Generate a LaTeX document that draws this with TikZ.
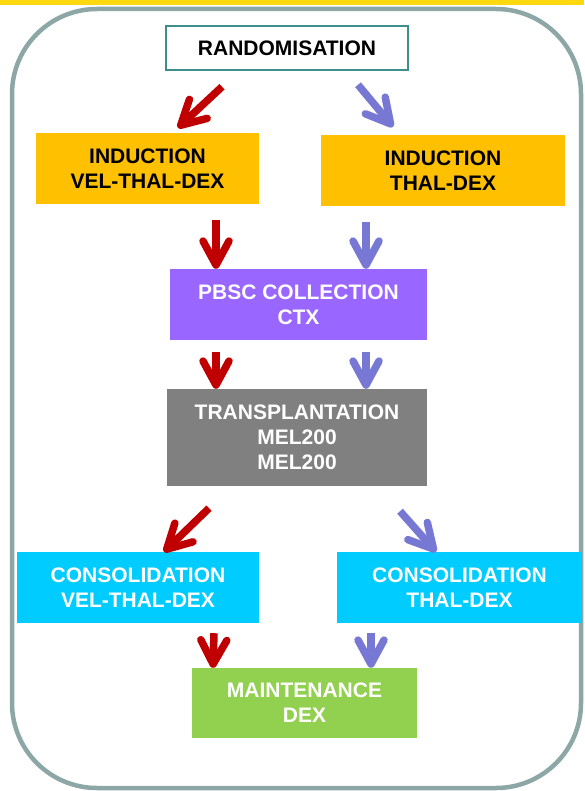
\documentclass[tikz,border=0pt]{standalone}
\usepackage{fontspec}
\setmainfont{Liberation Sans}
\usetikzlibrary{arrows.meta}
\definecolor{redc}{HTML}{C00000}
\definecolor{bluec}{HTML}{7777D4}
\definecolor{framec}{HTML}{8DA7A7}
\definecolor{tealc}{HTML}{3E8E8E}
\definecolor{stripc}{HTML}{FFD810}
\definecolor{indc}{HTML}{FFC000}
\definecolor{pbscc}{HTML}{9966FF}
\definecolor{transc}{HTML}{808080}
\definecolor{consc}{HTML}{00CCFF}
\definecolor{maintc}{HTML}{92D050}

\begin{document}
\begin{tikzpicture}[x=1pt,y=-1pt, every node/.style={font=\bfseries\fontsize{21}{25}\selectfont,align=center,inner sep=0pt},box/.style={rectangle,text=white},darkbox/.style={rectangle,text=black},rarr/.style={draw=redc,line width=7.5pt,-{Straight Barb[length=24pt,width=26pt,round]}},barr/.style={rarr,draw=bluec},]
\useasboundingbox (0,0) rectangle (584,791);
\fill[stripc] (0,0) rectangle (584,5);
\draw[framec, line width=4.5pt, rounded corners=85pt] (12,9) rectangle (581,788);
\node[darkbox, draw=tealc, line width=1.5pt, fill=white, minimum width=242pt, minimum height=44pt] (rand) at (287,48) {RANDOMISATION};
\node[darkbox, fill=indc, minimum width=223pt, minimum height=71pt] (indA) at (147.5,168.5) {INDUCTION\\VEL-THAL-DEX};
\node[darkbox, fill=indc, minimum width=244pt, minimum height=71pt] (indB) at (443,170.5) {INDUCTION\\THAL-DEX};
\node[box, fill=pbscc, minimum width=257pt, minimum height=71pt] (pbsc) at (298.5,304.5) {PBSC COLLECTION\\CTX};
\node[box, fill=transc, minimum width=260pt, minimum height=97pt] (transp) at (297,437.5) {TRANSPLANTATION\\MEL200\\MEL200};
\node[box, fill=consc, minimum width=242pt, minimum height=71pt] (consA) at (138,587.5) {CONSOLIDATION\\VEL-THAL-DEX};
\node[box, fill=consc, minimum width=245pt, minimum height=71pt] (consB) at (459.5,587.5) {CONSOLIDATION\\THAL-DEX};
\node[box, fill=maintc, minimum width=225pt, minimum height=70pt] (maint) at (304.5,703) {MAINTENANCE\\DEX};
\draw[rarr] ([xshift=-65pt,yshift=-16pt]rand.south) -- ([xshift=30.5pt,yshift=5pt]indA.north);
\draw[barr] ([xshift=71pt,yshift=-14pt]rand.south) -- ([xshift=-50pt,yshift=8pt]indB.north);
\draw[rarr] ([xshift=68.5pt,yshift=-16pt]indA.south) -- ([xshift=-82.5pt]pbsc.north);
\draw[barr] ([xshift=-77pt,yshift=-16pt]indB.south) -- ([xshift=67.5pt]pbsc.north);
\draw[rarr] ([xshift=-82.5pt,yshift=-12pt]pbsc.south) -- ([xshift=-81pt]transp.north);
\draw[barr] ([xshift=67.5pt,yshift=-12pt]pbsc.south) -- ([xshift=69pt]transp.north);
\draw[rarr] ([xshift=-88pt,yshift=-22pt]transp.south) -- ([xshift=26pt]consA.north);
\draw[barr] ([xshift=103pt,yshift=-25pt]transp.south) -- ([xshift=-23.5pt]consB.north);
\draw[rarr] ([xshift=76pt,yshift=-10pt]consA.south) -- ([xshift=-91.5pt]maint.north);
\draw[barr] ([xshift=-88.5pt,yshift=-10pt]consB.south) -- ([xshift=66.5pt]maint.north);
\end{tikzpicture}
\end{document}
